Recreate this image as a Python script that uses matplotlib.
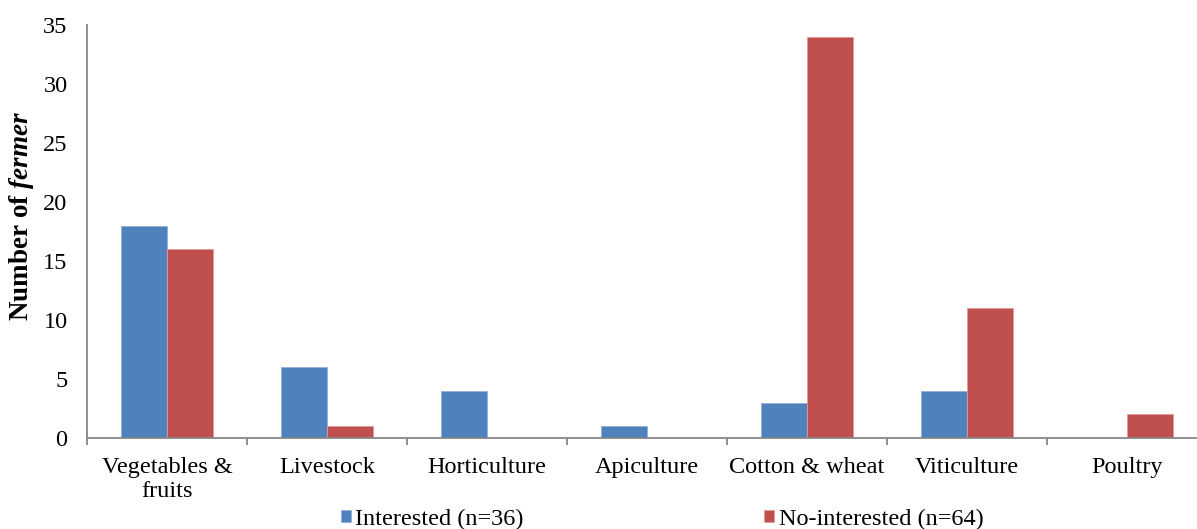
import matplotlib.pyplot as plt
import numpy as np

categories = ["Vegetables &\nfruits", "Livestock", "Horticulture", "Apiculture",
              "Cotton & wheat", "Viticulture", "Poultry"]
interested = [18, 6, 4, 1, 3, 4, 0]
no_interested = [16, 1, 0, 0, 34, 11, 2]
series_names = ["Interested (n=36)", "No-interested (n=64)"]

plt.rcParams["font.family"] = "Liberation Serif"
plt.rcParams["mathtext.fontset"] = "custom"
plt.rcParams["mathtext.rm"] = "Liberation Serif"
plt.rcParams["mathtext.bf"] = "Liberation Serif:bold"
plt.rcParams["mathtext.bfit"] = "Liberation Serif:italic:bold"

fs = 17.5
W, H = 1197, 529
fig = plt.figure(figsize=(W / 100, H / 100), dpi=100)
# axes box in pixels: left 87, bottom spine 438, top 25; right edge runs off the figure
left, right, top, bottom = 87, 1207, 25, 438
ax = fig.add_axes([left / W, (H - bottom) / H, (right - left) / W, (bottom - top) / H])

x = np.arange(len(categories))
w = 0.2875
ax.bar(x - w / 2, interested, w, color="#4F81BD", edgecolor="#8FB0DA", linewidth=0.6,
       label=series_names[0])
ax.bar(x + w / 2, no_interested, w, color="#C0504D", edgecolor="#E09A98", linewidth=0.6,
       label=series_names[1])

ax.set_xlim(-0.5, len(categories) - 0.5)
ax.set_ylim(0, 35)
ax.set_yticks(range(0, 36, 5))
ax.set_xticks(x)
ax.set_xticklabels(categories, linespacing=1.15)
ax.set_xticks(np.arange(-0.5, len(categories), 1), minor=True)

for s in ["top", "right"]:
    ax.spines[s].set_visible(False)
for s in ["left", "bottom"]:
    ax.spines[s].set_color("#868686")
    ax.spines[s].set_linewidth(1.3)

ax.tick_params(axis="y", length=0, pad=14, labelsize=fs)
ax.tick_params(axis="x", which="major", length=0, pad=14, labelsize=fs)
ax.tick_params(axis="x", which="minor", length=5, width=1.3, color="#868686", direction="out")

fig.text(22 / W, 1 - 216 / H, r"Number of $\mathbfit{fermer}$", rotation=90,
         ha="center", va="center", fontsize=19.5, fontweight="bold")

fig.legend(loc="center", bbox_to_anchor=(662 / W, 1 - 519 / H), ncol=2, frameon=False,
           fontsize=fs, handlelength=0.42, handleheight=0.42, handletextpad=0.17,
           columnspacing=9.9, borderaxespad=0)

fig.savefig("out.png", dpi=100)
